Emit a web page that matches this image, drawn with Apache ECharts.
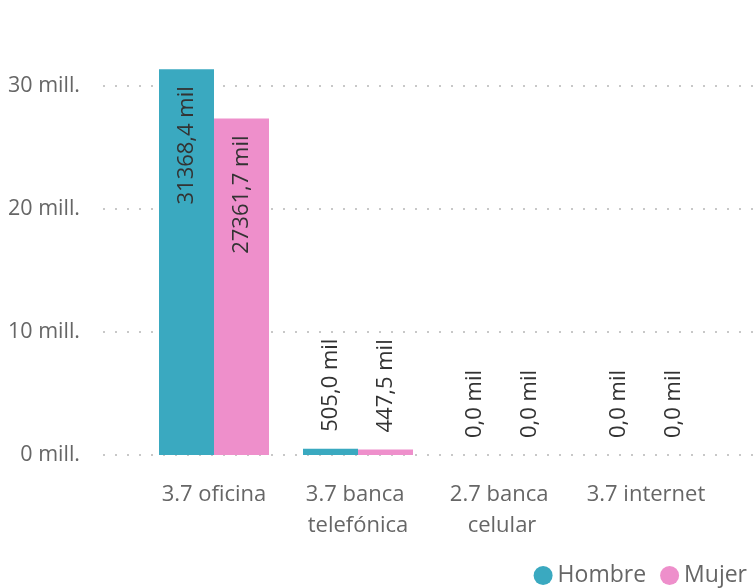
<!DOCTYPE html>
<html>
<head>
<meta charset="utf-8">
<script src="https://cdn.jsdelivr.net/npm/echarts@6/dist/echarts.min.js"></script>
<style>
  html, body { margin: 0; padding: 0; background: #fff; }
  #chart { width: 753px; height: 588px; }
</style>
</head>
<body>
<div id="chart"></div>
<script>
// values in "mil" (thousands)
var categories = ['3.7 oficina', '3.7 banca telefónica', '2.7 banca celular', '3.7 internet']
var hombre = [31368.4, 505.0, 0, 0]
var mujer = [27361.7, 447.5, 0, 0]
var yTicks = [0, 10000, 20000, 30000]

var font = '"Open Sans", "Noto Sans", sans-serif'

function milLabel(v) {
  return v.toFixed(1).replace('.', ',') + ' mil'
}

// big bars get their label inside, small ones above
function toItems(arr) {
  return arr.map(function (v) {
    var inside = v > 5000
    return {
      value: v,
      label: inside
        ? { position: 'insideTop', align: 'right', verticalAlign: 'middle', distance: 17 }
        : { position: 'top', align: 'left', verticalAlign: 'middle', distance: 17 }
    }
  })
}

var barLabel = {
  show: true,
  rotate: 90,
  fontFamily: font,
  fontSize: 22,
  color: '#333',
  formatter: function (p) { return milLabel(p.value) }
}

var chart = echarts.init(document.getElementById('chart'))
chart.setOption({
  animation: false,
  color: ['#3aa9c0', '#ee8fcb'],
  grid: [
    // gridlines + y labels, 0..30 mill.
    { left: 103, right: 0, top: 86, bottom: 133 },
    // bars, same scale, 0..35 mill.
    { left: 142, right: 35, top: 24.5, bottom: 133 }
  ],
  legend: {
    right: 1,
    bottom: -4,
    icon: 'circle',
    itemWidth: 19,
    itemHeight: 19,
    itemGap: 14,
    textStyle: { fontFamily: font, fontSize: 23, color: '#666', padding: [0, 0, 0, 0] },
    data: ['Hombre', 'Mujer']
  },
  xAxis: [
    { type: 'value', gridIndex: 0, show: false, min: 0, max: 1 },
    {
      type: 'category',
      gridIndex: 1,
      data: categories,
      axisLine: { show: false },
      axisTick: { show: false },
      axisLabel: {
        interval: 0,
        margin: 24,
        width: 140,
        overflow: 'break',
        lineHeight: 31,
        fontFamily: font,
        fontSize: 22,
        color: '#666'
      }
    }
  ],
  yAxis: [
    {
      type: 'value',
      gridIndex: 0,
      min: 0,
      max: 30000,
      interval: 10000,
      axisLine: { show: false },
      axisTick: { show: false },
      splitLine: { lineStyle: { color: '#c8c8c8', width: 2, type: [2, 10] } },
      axisLabel: {
        margin: 23,
        fontFamily: font,
        fontSize: 21.5,
        color: '#666',
        formatter: function (v) {
          return yTicks.indexOf(v) >= 0 ? (v / 1000) + ' mill.' : ''
        }
      }
    },
    { type: 'value', gridIndex: 1, min: 0, max: 35000, show: false }
  ],
  series: [
    {
      name: 'Hombre',
      type: 'bar',
      xAxisIndex: 1,
      yAxisIndex: 1,
      barWidth: 55,
      barGap: '0%',
      label: barLabel,
      data: toItems(hombre)
    },
    {
      name: 'Mujer',
      type: 'bar',
      xAxisIndex: 1,
      yAxisIndex: 1,
      barWidth: 55,
      barGap: '0%',
      label: barLabel,
      data: toItems(mujer)
    }
  ]
})
</script>
</body>
</html>
